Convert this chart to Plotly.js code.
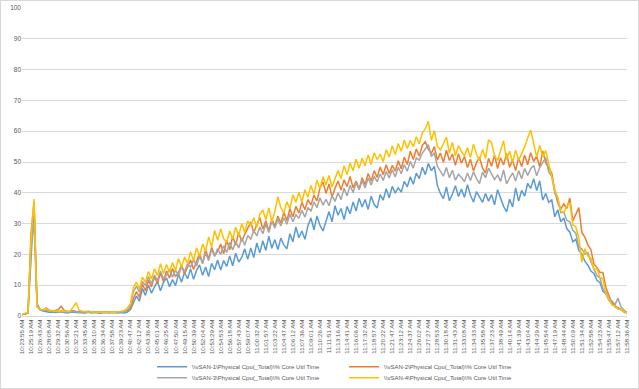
<!DOCTYPE html>
<html><head><meta charset="utf-8">
<script src="https://cdn.plot.ly/plotly-3.0.1.min.js"></script>
<style>
html,body{margin:0;padding:0;background:#fff;}
#wrap{position:relative;width:639px;height:389px;}
#chart{width:639px;height:389px;}
#frame{position:absolute;left:0;top:0;width:639px;height:389px;box-sizing:border-box;border:1px solid #d9d9d9;pointer-events:none;}
</style></head>
<body><div id="wrap"><div id="chart"></div><div id="frame"></div></div>
<script>
const timeLabels = ["10:23:55 AM","10:25:19 AM","10:26:43 AM","10:28:08 AM","10:29:32 AM","10:30:56 AM","10:32:21 AM","10:33:45 AM","10:35:10 AM","10:36:34 AM","10:37:58 AM","10:39:23 AM","10:40:47 AM","10:42:12 AM","10:43:36 AM","10:45:01 AM","10:46:25 AM","10:47:50 AM","10:49:15 AM","10:50:39 AM","10:52:04 AM","10:53:29 AM","10:54:53 AM","10:56:18 AM","10:57:43 AM","10:59:07 AM","11:00:32 AM","11:01:57 AM","11:03:22 AM","11:04:47 AM","11:06:12 AM","11:07:36 AM","11:09:01 AM","11:10:26 AM","11:11:51 AM","11:13:16 AM","11:14:41 AM","11:16:06 AM","11:17:32 AM","11:18:57 AM","11:20:22 AM","11:21:47 AM","11:23:12 AM","11:24:37 AM","11:26:02 AM","11:27:27 AM","11:28:53 AM","11:30:18 AM","11:31:43 AM","11:33:08 AM","11:34:33 AM","11:35:58 AM","11:37:23 AM","11:38:49 AM","11:40:14 AM","11:41:39 AM","11:43:04 AM","11:44:29 AM","11:45:54 AM","11:47:19 AM","11:48:44 AM","11:50:09 AM","11:51:34 AM","11:52:58 AM","11:54:23 AM","11:55:47 AM","11:57:12 AM","11:58:36 AM"];
const samplesPerLabel = 3;

const seriesNames = ["\\\\vSAN-1\\Physical Cpu(_Total)\\% Core Util Time","\\\\vSAN-2\\Physical Cpu(_Total)\\% Core Util Time","\\\\vSAN-3\\Physical Cpu(_Total)\\% Core Util Time","\\\\vSAN-4\\Physical Cpu(_Total)\\% Core Util Time"];
const seriesColors = ["#5B9BD5","#ED7D31","#A5A5A5","#FFC000"];

const vsan1 = [0.5,0.6,1.0,18,36,4,2.0,1.6,1.4,1.2,
1.3,1.1,1.2,1.4,1.1,1.0,1.2,1.3,1.1,1.0,
1.1,1.0,1.2,1.0,1.1,1.0,0.9,1.1,1.0,1.0,
1.1,1.0,1.0,1.1,1.0,1.3,
2.0,4.2,6.5,4.8,8.9,6.7,10.1,7.4,9.6,11.3,
8.2,10.9,12.4,9.5,11.8,9.9,13.6,11.0,14.2,12.1,
15.3,11.9,14.8,16.6,13.2,15.9,12.8,17.1,15.0,18.2,
14.9,18.0,16.1,19.5,16.3,20.4,17.5,19.0,21.8,18.4,
22.1,19.0,23.7,20.5,24.4,21.3,25.9,22.0,24.8,21.6,
25.3,23.0,21.8,26.7,24.1,28.9,25.4,27.6,24.9,29.3,
31.8,28.0,32.5,29.4,27.6,31.2,33.9,30.6,35.8,32.7,
34.9,31.3,35.6,33.2,37.0,34.1,38.2,35.4,37.8,34.6,
38.9,36.2,35.1,39.4,37.6,41.3,38.4,42.1,39.9,41.6,
40.2,43.7,41.9,45.2,42.8,46.4,44.6,48.3,45.9,49.5,
47.2,48.6,42.4,39.8,38.1,41.9,37.4,39.6,42.3,38.8,
41.2,38.5,42.6,39.2,37.0,40.4,38.6,36.9,39.8,37.3,
39.4,36.1,41.0,38.2,35.6,33.8,37.9,35.4,41.6,37.3,
40.8,38.9,43.1,41.4,44.6,40.7,43.9,37.6,39.8,36.9,
37.7,32.2,34.5,30.6,31.8,28.4,27.2,24.1,24.9,21.3,
20.2,17.8,16.5,14.6,13.8,11.6,10.9,8.0,7.2,5.0,
4.4,3.0,2.8,2.0,1.6,1.1];

const vsan2 = [0.5,0.7,1.0,27,37,3.2,2.2,1.8,2.6,1.9,
1.7,1.8,2.0,3.2,1.8,1.5,1.6,1.7,1.5,1.4,
1.5,1.4,1.5,1.3,1.4,1.3,1.2,1.4,1.3,1.2,
1.3,1.2,1.3,1.4,1.5,1.8,
2.4,5.6,7.9,6.1,10.3,8.2,11.7,9.4,12.8,10.6,
13.9,11.2,14.6,12.3,15.4,12.8,14.1,16.5,13.6,15.9,
18.2,15.1,17.9,20.4,17.0,21.6,18.5,22.3,19.6,21.0,
23.4,20.2,24.6,21.5,25.9,23.0,27.1,24.2,26.5,28.6,
30.5,27.1,29.8,32.0,28.2,30.9,27.6,31.5,29.1,32.4,
30.2,33.6,31.0,34.8,32.2,35.6,33.4,36.9,34.5,37.8,
36.0,39.2,37.4,41.6,43.5,39.8,42.9,38.6,41.5,43.8,
40.9,44.2,42.0,45.3,41.6,43.8,41.2,44.9,42.7,46.3,
43.8,47.2,45.0,48.4,45.9,49.1,46.3,48.9,47.0,50.4,
47.8,51.6,49.2,53.5,50.8,54.2,51.9,55.4,56.6,54.1,
52.8,55.0,50.6,52.9,49.9,53.8,50.5,52.6,48.9,52.7,
49.6,51.8,48.2,50.9,47.1,49.8,51.6,48.0,46.4,51.2,
48.6,52.3,47.9,51.4,49.0,52.8,48.3,50.6,47.2,51.4,
48.5,52.2,49.1,53.0,50.2,51.9,48.4,53.6,49.7,48.0,
46.4,40.6,36.8,34.7,36.4,34.9,38.3,30.9,33.1,35.2,
27.1,25.6,23.1,21.6,16.9,15.8,14.2,14.1,9.2,6.5,
4.1,3.4,2.3,2.1,1.3,1.0];

const vsan3 = [0.5,0.8,1.0,23,30,3.0,2.0,1.7,1.9,1.6,
1.5,1.6,1.4,1.5,1.4,1.3,1.4,1.5,1.3,1.2,
1.3,1.2,1.3,1.2,1.2,1.1,1.2,1.2,1.1,1.2,
1.2,1.1,1.2,1.2,1.4,2.0,
3.4,7.9,9.6,7.8,11.2,9.9,12.8,10.4,13.3,11.5,
14.6,12.1,13.4,15.2,12.6,14.9,13.2,16.1,14.4,17.0,
15.8,18.3,16.2,19.4,17.1,20.5,18.0,21.7,19.3,21.9,
20.0,22.8,20.6,23.9,21.4,24.2,22.1,25.3,23.0,26.1,
25.0,27.8,26.0,28.9,26.7,29.9,27.1,30.8,28.5,31.4,
29.2,31.9,29.8,33.1,30.6,32.9,31.7,34.3,32.1,35.2,
34.1,37.0,35.2,38.4,36.0,37.9,35.8,39.1,37.2,40.0,
37.8,41.5,39.0,42.4,40.1,43.3,41.0,43.9,41.6,44.8,
42.5,45.3,43.6,46.1,44.0,46.9,44.8,47.5,45.1,48.3,
46.2,49.1,47.0,50.2,48.0,51.3,50.6,52.9,54.2,55.6,
51.8,53.0,48.6,47.0,45.4,48.2,44.9,47.3,44.1,46.0,
45.0,43.6,46.4,44.0,46.8,44.6,43.0,46.7,44.9,48.0,
46.2,44.3,45.8,43.7,47.4,42.9,44.8,46.5,43.8,47.2,
44.6,47.9,45.6,47.8,48.9,45.5,48.2,49.6,51.4,46.8,
45.3,40.0,37.9,33.6,33.8,31.0,30.6,27.8,26.9,22.4,
21.8,20.1,20.6,17.6,15.5,13.1,12.4,8.8,7.8,5.3,
4.9,3.6,5.8,3.0,1.9,1.2];

const vsan4 = [0.5,0.8,1.2,25,38,3.0,2.2,2.0,2.3,1.9,
1.7,1.6,1.5,1.7,1.5,1.4,1.6,2.8,4.3,1.8,
1.5,1.4,1.3,1.4,1.3,1.2,1.3,1.3,1.2,1.3,
1.3,1.2,1.3,1.5,1.8,2.6,
3.8,9.2,11.0,8.7,12.6,10.9,14.4,12.0,15.3,13.1,
17.0,13.8,16.7,14.2,17.4,14.8,18.6,15.9,19.2,17.1,
20.8,18.0,22.1,19.4,23.4,21.0,25.7,22.4,27.8,24.6,
28.3,25.1,23.9,27.6,25.0,28.8,26.0,30.0,27.1,30.9,
29.4,31.9,28.7,33.0,34.4,31.2,35.1,30.6,33.9,38.7,
35.2,33.4,37.1,34.8,39.4,36.9,40.2,37.1,41.0,38.6,
42.4,39.5,44.1,41.3,45.2,42.6,45.6,41.9,44.6,47.2,
44.6,48.8,45.9,49.7,47.1,50.9,48.0,51.2,48.8,52.3,
49.2,53.0,50.8,52.6,50.1,54.0,51.6,55.3,52.4,56.0,
53.5,57.1,54.4,57.0,55.0,58.2,55.9,59.5,60.8,63.2,
57.0,60.2,55.1,53.9,56.0,58.1,52.8,56.4,52.0,55.3,
53.4,52.0,54.6,51.5,55.8,52.6,50.4,54.1,51.2,57.2,
56.3,52.0,50.5,53.4,56.9,50.8,53.5,49.9,53.8,50.6,
52.7,54.9,57.8,60.4,56.0,51.6,55.4,51.8,53.7,49.6,
45.4,41.0,38.6,34.0,33.6,35.6,36.9,29.6,28.9,25.4,
17.5,21.9,19.4,18.8,15.1,15.4,12.6,12.0,7.1,5.3,
3.6,3.2,2.3,2.1,1.4,1.1];

const yTicks = [0,10,20,30,40,50,60,70,80,90,100];

const allSeries = [vsan1, vsan2, vsan3, vsan4];
const legendIds = ["legend","legend","legend2","legend2"];
const traces = allSeries.map((vals, k) => ({
  type: "scatter", mode: "lines",
  y: vals,
  name: seriesNames[k],
  line: {color: seriesColors[k], width: 1.5},
  legend: legendIds[k],
  hoverinfo: "skip"
}));
const font = {family: "Liberation Sans, Arial, sans-serif", color: "#595959"};
const legendCommon = {
  orientation: "h", xanchor: "left", yanchor: "middle",
  xref: "container", yref: "container",
  font: Object.assign({}, font, {size: 6}),
  entrywidth: 147, entrywidthmode: "pixels",
  bgcolor: "rgba(0,0,0,0)", itemwidth: 30, tracegroupgap: 0
};
const layout = {
  width: 639, height: 389,
  margin: {l: 22, r: 12, t: 8, b: 73, pad: 0},
  paper_bgcolor: "#ffffff", plot_bgcolor: "#ffffff",
  showlegend: true,
  font: font,
  xaxis: {
    range: [0, vsan1.length - 1],
    tickmode: "array",
    tickvals: timeLabels.map((_, i) => i * samplesPerLabel),
    ticktext: timeLabels,
    tickangle: -90,
    tickfont: Object.assign({}, font, {size: 6.2}),
    showgrid: false, zeroline: false,
    showline: true, linecolor: "#d9d9d9", linewidth: 1,
    ticks: "", fixedrange: true, automargin: false
  },
  yaxis: {
    range: [0, 100],
    tickmode: "array", tickvals: yTicks, ticktext: yTicks.map(String),
    tickfont: Object.assign({}, font, {size: 6.5}),
    showgrid: true, gridcolor: "#d9d9d9", gridwidth: 1,
    zeroline: false, showline: false, ticks: "", fixedrange: true, automargin: false
  },
  legend: Object.assign({}, legendCommon, {x: 0.238, y: 0.057}),
  legend2: Object.assign({}, legendCommon, {x: 0.238, y: 0.029})
};
Plotly.newPlot("chart", traces, layout, {displayModeBar: false, staticPlot: true});
</script></body></html>
